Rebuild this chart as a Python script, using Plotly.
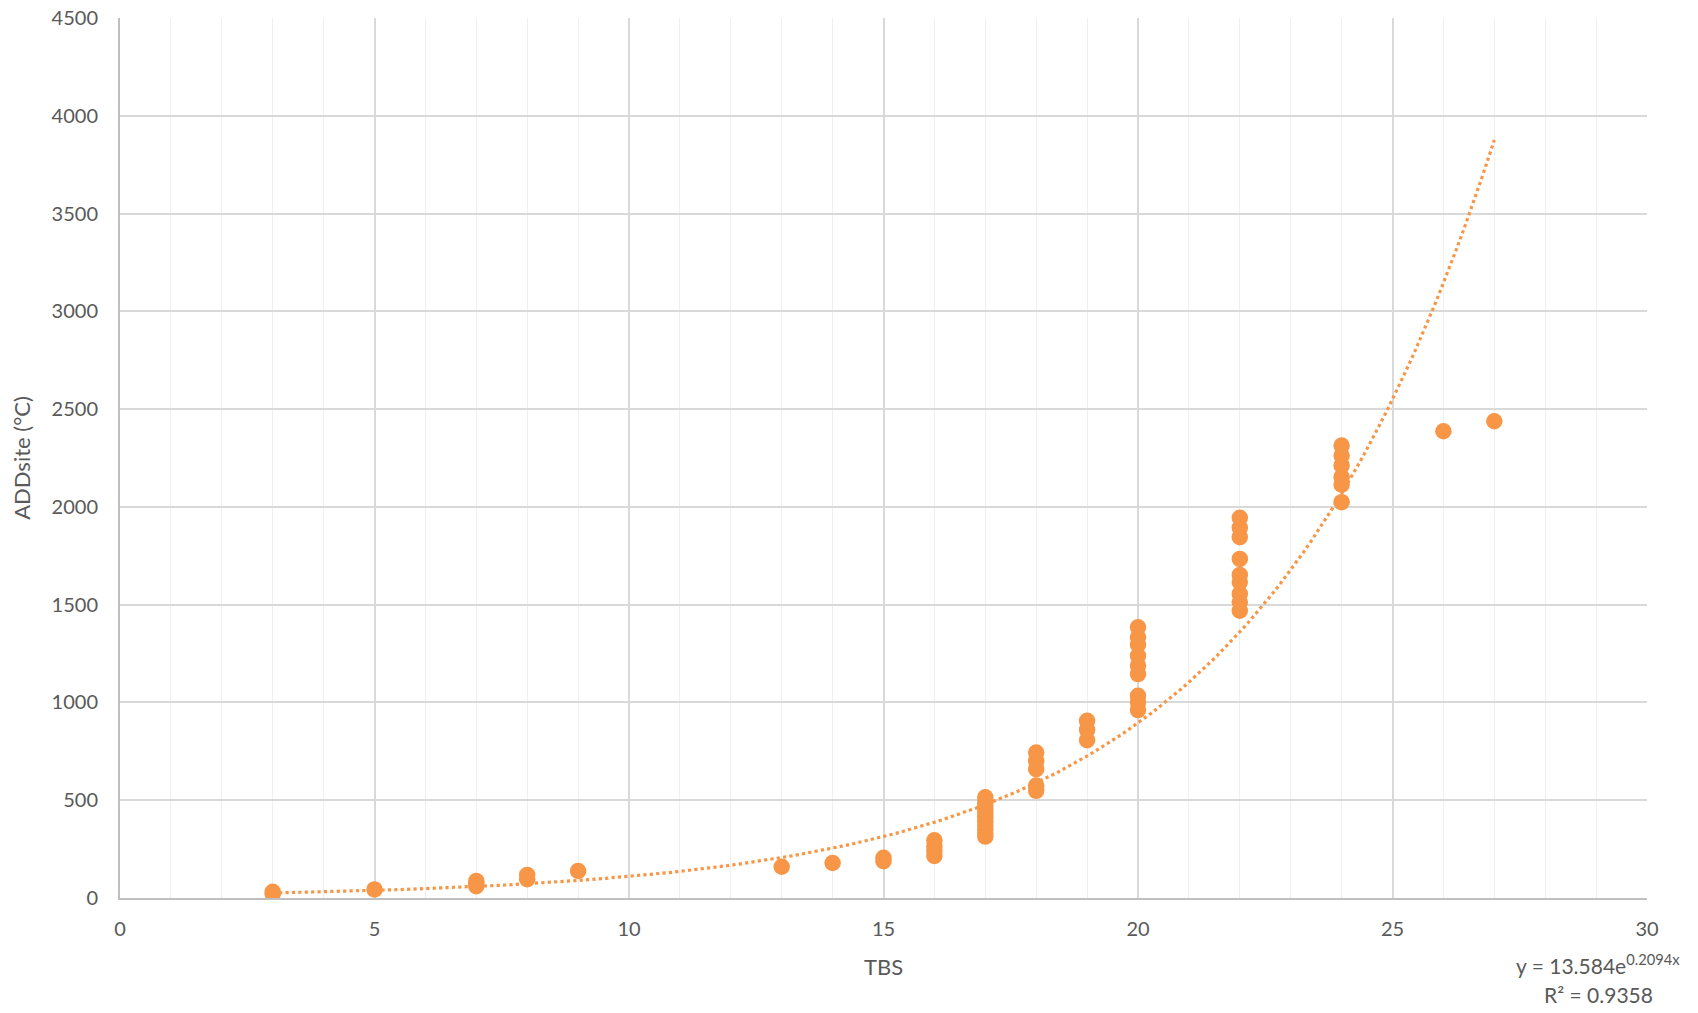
import numpy as np
import plotly.graph_objects as go

# Data (TBS vs ADDsite)
tbs = [3, 3, 5, 7, 7, 7, 8, 8, 9, 13, 14, 15, 15,
       16, 16, 16, 16,
       17, 17, 17, 17, 17, 17, 17, 17, 17, 17, 17,
       18, 18, 18, 18, 18,
       19, 19, 19,
       20, 20, 20, 20, 20, 20, 20, 20, 20,
       22, 22, 22, 22, 22, 22, 22, 22, 22,
       24, 24, 24, 24, 24, 24,
       26, 27]
addsite = [22, 32, 44, 60, 72, 87, 96, 118, 138, 160, 179, 188, 206,
           215, 240, 265, 295,
           314, 330, 350, 370, 390, 410, 430, 450, 470, 490, 515,
           548, 575, 659, 701, 744,
           807, 860, 906,
           961, 1000, 1034, 1145, 1188, 1239, 1295, 1333, 1384,
           1469, 1512, 1555, 1614, 1652, 1734, 1845, 1893, 1944,
           2024, 2114, 2152, 2212, 2263, 2314,
           2387, 2438]

# Exponential trendline as shown on the chart
trend_a = 13.584
trend_b = 0.2094
trend_r2 = 0.9358
trend_x = np.linspace(min(tbs), max(tbs), 200)
trend_y = trend_a * np.exp(trend_b * trend_x)

x_ticks = [0, 5, 10, 15, 20, 25, 30]
y_ticks = [0, 500, 1000, 1500, 2000, 2500, 3000, 3500, 4000, 4500]

orange = "#F79646"
font = "Lato, 'Open Sans', sans-serif"
grey = "#595959"

fig = go.Figure()
fig.add_trace(go.Scatter(x=trend_x, y=trend_y, mode="lines",
                         line=dict(color=orange, width=3.2, dash="dot"),
                         hoverinfo="skip", showlegend=False))
fig.add_trace(go.Scatter(x=tbs, y=addsite, mode="markers",
                         marker=dict(color=orange, size=16.5),
                         showlegend=False))

fig.add_annotation(xref="paper", yref="paper", x=0.968, y=-0.075,
                   text=f"y = {trend_a}e<sup>{trend_b}x</sup>",
                   showarrow=False, font=dict(family=font, size=21, color=grey),
                   xanchor="center", yanchor="middle")
fig.add_annotation(xref="paper", yref="paper", x=0.968, y=-0.11,
                   text=f"R² = {trend_r2}",
                   showarrow=False, font=dict(family=font, size=21, color=grey),
                   xanchor="center", yanchor="middle")

fig.update_layout(
    width=1698, height=1013,
    margin=dict(l=120, r=51, t=18, b=115),
    plot_bgcolor="white", paper_bgcolor="white",
    font=dict(family=font, size=20, color=grey),
)
fig.update_xaxes(range=[0, 30], tickvals=x_ticks, ticktext=[str(v) for v in x_ticks],
                 showgrid=True, gridcolor="#D9D9D9", gridwidth=1.5,
                 minor=dict(dtick=1, tick0=0, showgrid=True, gridcolor="#EFEFEF", gridwidth=1),
                 showline=True, linecolor="#BFBFBF", linewidth=2,
                 zeroline=False, ticks="", ticklabelstandoff=12, automargin=False,
                 ticklabeloverflow="allow",
                 tickfont=dict(size=20, color=grey),
                 title=dict(text="TBS", font=dict(size=22, color=grey), standoff=21))
fig.update_yaxes(range=[0, 4500], tickvals=y_ticks, ticktext=[str(v) for v in y_ticks],
                 showgrid=True, gridcolor="#D9D9D9", gridwidth=1.5,
                 showline=True, linecolor="#BFBFBF", linewidth=2,
                 zeroline=False, ticks="", ticklabelstandoff=16, automargin=False,
                 ticklabeloverflow="allow",
                 tickfont=dict(size=20, color=grey),
                 title=dict(text="ADDsite (°C)", font=dict(size=22, color=grey), standoff=15))

# remove the default 8px page margin so the figure fills the window exactly
fig.write_html("out.html",
               config={"displayModeBar": False},
               post_script="document.body.style.margin='0';document.body.style.overflow='hidden';")
